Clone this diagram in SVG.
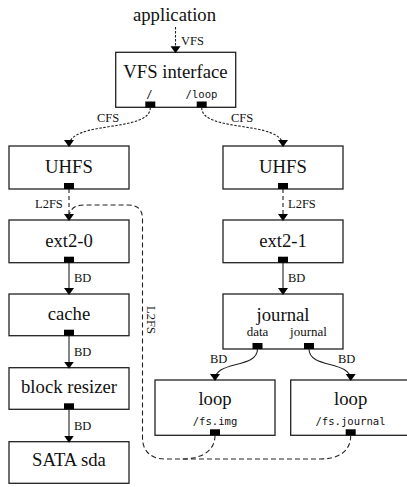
<svg xmlns="http://www.w3.org/2000/svg" width="407" height="487" viewBox="0 0 407 487">
<style>
.box{fill:#fff;stroke:#222;stroke-width:1.3}
.port{fill:#000}
.lbl{font-family:'Liberation Serif','Tinos','Nimbus Roman','DejaVu Serif',serif;font-size:18.7px;fill:#111;text-anchor:middle}
.sub{font-family:'Liberation Serif','Tinos','Nimbus Roman','DejaVu Serif',serif;font-size:13px;fill:#111;text-anchor:middle}
.mono{font-family:'DejaVu Sans Mono','Liberation Mono',monospace;font-size:10.6px;fill:#111;text-anchor:middle}
.el{font-family:'Liberation Serif','Tinos','Nimbus Roman','DejaVu Serif',serif;font-size:12.5px;fill:#111}
.c{fill:none;stroke:#222;stroke-width:1.1}
.fine{stroke-dasharray:2.5,1.5}
.dash{stroke-dasharray:4,3}
.long{stroke-dasharray:5,3}
</style>
<defs>
<marker id="ah" markerUnits="userSpaceOnUse" markerWidth="10" markerHeight="11" refX="6" refY="5" orient="auto">
<path d="M0,0 L7,5 L0,10 z" fill="#000"/>
</marker>
</defs>

<text class="lbl" x="174.5" y="21" font-family="Liberation Serif">application</text>

<g id="vfs">
<rect class="box" x="115.7" y="52.3" width="120" height="55"/>
<text class="lbl" x="175.5" y="78">VFS interface</text>
<text class="mono" x="149.5" y="97.7">/</text>
<text class="mono" x="201.5" y="97.7">/loop</text>
<rect class="port" x="145.3" y="101.5" width="10" height="6"/>
<rect class="port" x="196.7" y="101.5" width="10" height="6"/>
</g>

<g id="uhfs0">
<rect class="box" x="9" y="146" width="120" height="43"/>
<text class="lbl" x="69" y="172.5">UHFS</text>
<rect class="port" x="64" y="183" width="10" height="6"/>
</g>

<g id="uhfs1">
<rect class="box" x="223" y="146" width="120" height="43"/>
<text class="lbl" x="283" y="172.5">UHFS</text>
<rect class="port" x="278" y="183" width="10" height="6"/>
</g>

<g id="ext20">
<rect class="box" x="9" y="220" width="120" height="42.7"/>
<text class="lbl" x="69" y="246.5">ext2-0</text>
<rect class="port" x="64" y="256.7" width="10" height="6"/>
</g>

<g id="ext21">
<rect class="box" x="223" y="220" width="120" height="42.7"/>
<text class="lbl" x="283" y="246.5">ext2-1</text>
<rect class="port" x="278" y="256.7" width="10" height="6"/>
</g>

<g id="cache">
<rect class="box" x="9" y="294" width="120" height="41.7"/>
<text class="lbl" x="69" y="319.5">cache</text>
<rect class="port" x="64" y="329.7" width="10" height="6"/>
</g>

<g id="journal">
<rect class="box" x="223" y="294" width="120" height="55"/>
<text class="lbl" x="283" y="320.5">journal</text>
<text class="sub" x="257.5" y="336">data</text>
<text class="sub" x="308.5" y="336">journal</text>
<rect class="port" x="252.5" y="343" width="10" height="6"/>
<rect class="port" x="304" y="343" width="10" height="6"/>
</g>

<g id="resizer">
<rect class="box" x="9" y="367.7" width="120" height="41.6"/>
<text class="lbl" x="69" y="393">block resizer</text>
<rect class="port" x="64" y="403.3" width="10" height="6"/>
</g>

<g id="sata">
<rect class="box" x="9" y="441.7" width="120" height="41.6"/>
<text class="lbl" x="69" y="466">SATA sda</text>
</g>

<g id="loop0">
<rect class="box" x="155" y="380" width="120" height="55.3"/>
<text class="lbl" x="215" y="405">loop</text>
<text class="mono" x="215" y="425">/fs.img</text>
<rect class="port" x="210" y="429.3" width="10" height="6"/>
</g>

<g id="loop1">
<rect class="box" x="290.7" y="380" width="120" height="55.3"/>
<text class="lbl" x="350.7" y="405">loop</text>
<text class="mono" x="350.5" y="425">/fs.journal</text>
<rect class="port" x="345.7" y="429.3" width="10" height="6"/>
</g>

<g id="connectors">
<path class="c fine" d="M175.5,27 L175.5,52.3" marker-end="url(#ah)"/>
<text class="el" x="181" y="45">VFS</text>

<path class="c fine" d="M150.3,107.5 C150.3,133 69,120 69,146" marker-end="url(#ah)"/>
<text class="el" x="97" y="121.5">CFS</text>
<path class="c fine" d="M201.7,107.5 C201.7,133 283,120 283,146" marker-end="url(#ah)"/>
<text class="el" x="231" y="121.5">CFS</text>

<path class="c dash" d="M69,189 L69,220" marker-end="url(#ah)"/>
<text class="el" x="35" y="208">L2FS</text>
<path class="c dash" d="M283,189 L283,220" marker-end="url(#ah)"/>
<text class="el" x="288" y="208">L2FS</text>

<path class="c" d="M69,262.7 L69,294" marker-end="url(#ah)"/>
<text class="el" x="74" y="281.7">BD</text>
<path class="c" d="M283,262.7 L283,294" marker-end="url(#ah)"/>
<text class="el" x="288" y="281.7">BD</text>
<path class="c" d="M69,335.7 L69,367.7" marker-end="url(#ah)"/>
<text class="el" x="74" y="356">BD</text>
<path class="c" d="M69,409.3 L69,441.7" marker-end="url(#ah)"/>
<text class="el" x="74" y="429.5">BD</text>

<path class="c" d="M257.5,349 C257.5,369 215,360 215,380" marker-end="url(#ah)"/>
<text class="el" x="210" y="363.3">BD</text>
<path class="c" d="M309,349 C309,369 350.7,360 350.7,380" marker-end="url(#ah)"/>
<text class="el" x="338" y="363.3">BD</text>

<path class="c long" d="M350.7,435.3 C350.7,452 338,459 320,459 L165,459 C150,459 142.5,450 142.5,438 L142.5,219 C142.5,210 138,205 128,205 L84,205 C74,205 69,210 69,218"/>
<path class="c long" d="M215,435.3 C215,452 200,459 182,459"/>
<text class="el" transform="translate(147,320) rotate(90)" text-anchor="middle">L2FS</text>
</g>
</svg>
